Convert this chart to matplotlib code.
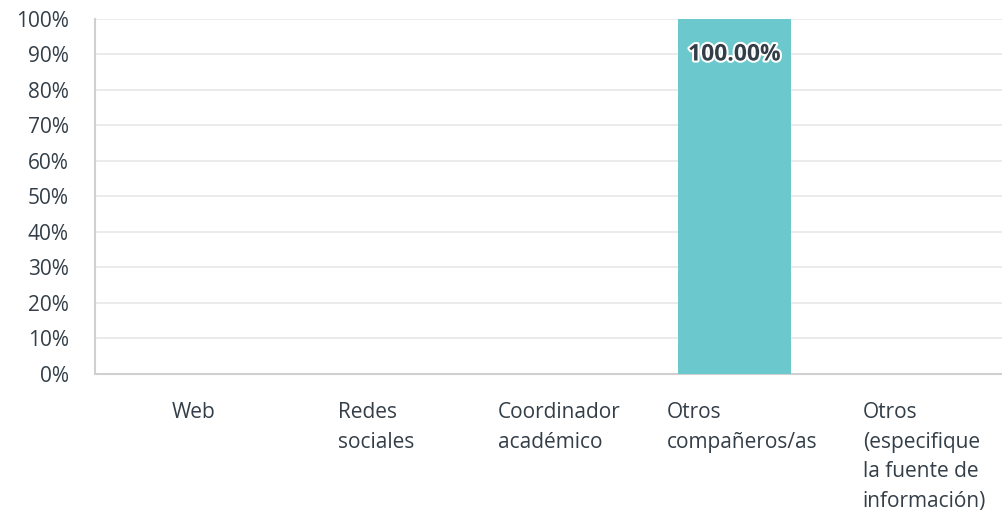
import matplotlib.pyplot as plt
import matplotlib.patheffects as pe
import numpy as np

categories = ['Web', 'Redes\nsociales', 'Coordinador\nacadémico',
              'Otros\ncompañeros/as',
              'Otros\n(especifique\nla fuente de\ninformación)']
values = [0, 0, 0, 100, 0]
yticks = [0, 10, 20, 30, 40, 50, 60, 70, 80, 90, 100]

text_color = '#333e48'
bar_color = '#6bc8cc'

plt.rcParams['font.family'] = ['Open Sans', 'DejaVu Sans']

fig = plt.figure(figsize=(10.03, 5.13), dpi=100)
ax = fig.add_axes([0.0947, 0.271, 0.9053, 0.692])

x = np.arange(len(categories))
ax.bar(x, values, width=0.62, color=bar_color, zorder=3)

for xi, v in zip(x, values):
    if v > 0:
        ax.text(xi, v - 10, '{:.2f}%'.format(v), ha='center', va='center',
                fontsize=16.5, fontweight='bold', color=text_color, zorder=4,
                path_effects=[pe.withStroke(linewidth=3, foreground='white')])

ax.set_xlim(-0.5, len(categories) - 0.53)
ax.set_ylim(0, 100)
ax.set_yticks(yticks)
ax.set_yticklabels(['{}%'.format(t) for t in yticks])
ax.yaxis.grid(True, color='#e8e8e8', linewidth=1.2, zorder=0)
ax.set_axisbelow(True)

ax.set_xticks(x + 0.04)
ax.set_xticklabels(categories, ha='center', multialignment='left',
                   linespacing=1.55, va='top')

ax.tick_params(axis='y', length=0, pad=19, labelsize=15, labelcolor=text_color)
ax.tick_params(axis='x', length=0, pad=20, labelsize=15, labelcolor=text_color)

for s in ['top', 'right']:
    ax.spines[s].set_visible(False)
for s in ['left', 'bottom']:
    ax.spines[s].set_color('#d0d0d0')
    ax.spines[s].set_linewidth(1.5)

plt.savefig('out.png', dpi=100)
